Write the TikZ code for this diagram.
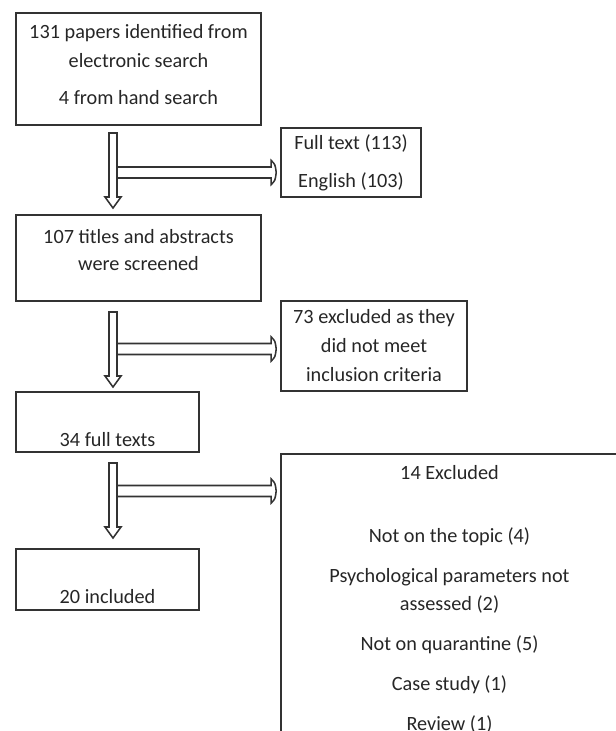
\documentclass[tikz,border=0pt]{standalone}
\usepackage{fontspec}
\setmainfont{Carlito}
\usetikzlibrary{calc}

\tikzset{
  box/.style={draw=black!80, line width=1.1pt, align=center, inner sep=1pt, text=black!85},
  fat/.style={draw=black!80, line width=1.1pt, fill=white, line join=miter},
}
% fat block arrows: #1 tail, #2 tip
\newcommand{\fatdown}[2]{\draw[fat] ($(#1)+(-4,0)$) -- ($(#2)+(-4,-11)$) -- ($(#2)+(-8,-11)$) -- (#2) -- ($(#2)+(8,-11)$) -- ($(#2)+(4,-11)$) -- ($(#1)+(4,0)$) -- cycle;}
\newcommand{\fatright}[2]{\draw[fat] ($(#1)+(0,-5.5)$) -- ($(#2)+(-5,-5.5)$) -- ($(#2)+(-5,-12)$) .. controls ($(#2)+(-1,-8)$) .. (#2) .. controls ($(#2)+(-1,8)$) .. ($(#2)+(-5,12)$) -- ($(#2)+(-5,5.5)$) -- ($(#1)+(0,5.5)$) -- cycle;}

\begin{document}
\begin{tikzpicture}[x=0.025cm, y=-0.025cm, font=\fontsize{14.4}{19.9}\selectfont]
\useasboundingbox (0,0) rectangle (616,731);
\clip (0,0) rectangle (616,731);

% left column
\node[box, minimum width=6.125cm, minimum height=2.8cm] (srch) at (138.5,69)
  {131 papers identified from\\[0.7pt]electronic search\\[6.4pt]4 from hand search\\[-14pt]\mbox{}};
\node[box, minimum width=6.125cm, minimum height=2.15cm] (scr) at (138.5,258)
  {107 titles and abstracts\\[-0.7pt]were screened\\[-9pt]\mbox{}};
\node[box, minimum width=4.575cm, minimum height=1.5cm] (ft) at (107.5,422)
  {\mbox{}\\[15pt]34 full texts};
\node[box, minimum width=4.575cm, minimum height=1.525cm] (incl) at (107.5,579.5)
  {\mbox{}\\[14.5pt]20 included};

% right column
\node[box, inner sep=0pt, minimum width=3.5cm, minimum height=1.725cm] (full) at (351,162.5)
  {Full text (113)\\[7.1pt]English (103)};
\node[box, minimum width=4.65cm, minimum height=2.25cm] (excl) at (374,346)
  {73 excluded as they\\[0.7pt]did not meet\\[0.7pt]inclusion criteria};
\node[box, anchor=north, inner ysep=8.3pt, minimum width=8.425cm] (rsn) at (449.5,453)
  {14 Excluded\\[24.9pt]Not on the topic (4)\\[8.5pt]Psychological parameters not\\assessed (2)\\[8.5pt]Not on quarantine (5)\\[8.5pt]Case study (1)\\[8.5pt]Review (1)};

% arrows
\coordinate (v1a) at (113,133); \coordinate (v1b) at (113,208);
\coordinate (v2a) at (113,312); \coordinate (v2b) at (113,387);
\coordinate (v3a) at (113,463); \coordinate (v3b) at (113,538);
\coordinate (h1a) at (117,172.5);
\coordinate (h2a) at (117,349);
\coordinate (h3a) at (117,491);
\fatdown{v1a}{v1b}
\fatdown{v2a}{v2b}
\fatdown{v3a}{v3b}
\fatright{h1a}{$(full.west|-h1a)+(-4,0)$}
\fatright{h2a}{$(excl.west|-h2a)+(-4,0)$}
\fatright{h3a}{$(rsn.west|-h3a)+(-4,0)$}

\end{tikzpicture}
\end{document}
